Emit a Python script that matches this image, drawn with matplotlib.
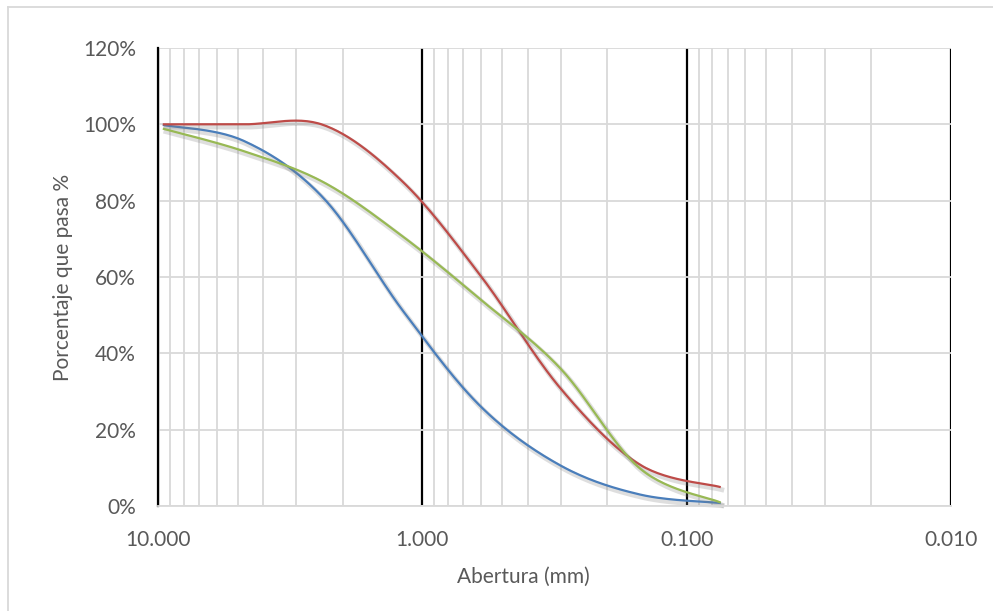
import numpy as np
import matplotlib
matplotlib.use('Agg')
import matplotlib.pyplot as plt
import matplotlib.ticker as mticker
import matplotlib.patheffects as pe
from matplotlib.lines import Line2D

# granulometric curves

abertura = [9.5, 4.75, 2.36, 1.18, 0.6, 0.3, 0.15, 0.075]   # mm
pasa_azul  = [99.8, 95.7, 80.6, 51.0, 26.0, 10.6, 3.0, 0.8]
pasa_rojo  = [100.0, 100.0, 99.8, 84.8, 60.2, 30.8, 10.8, 5.0]
pasa_verde = [98.8, 93.0, 84.8, 70.5, 54.0, 36.0, 9.8, 1.0]

y_ticks = [0, 20, 40, 60, 80, 100, 120]
x_ticks = [10, 1, 0.1, 0.01]

# ================================================

def smooth(x, y, n=30):
    """ Excel-like smoothed line (Catmull-Rom in log10(x), y). """
    lx = np.log10(np.asarray(x, float))
    y = np.asarray(y, float)
    P = np.column_stack([lx, y])
    P = np.vstack([P[0], P, P[-1]])
    out = []
    t = np.linspace(0, 1, n)[:, None]
    for i in range(1, len(P) - 2):
        p0, p1, p2, p3 = P[i-1], P[i], P[i+1], P[i+2]
        m1 = (p2 - p0) / 2
        m2 = (p3 - p1) / 2
        h00 = 2*t**3 - 3*t**2 + 1
        h10 = t**3 - 2*t**2 + t
        h01 = -2*t**3 + 3*t**2
        h11 = t**3 - t**2
        seg = h00*p1 + h10*m1 + h01*p2 + h11*m2
        out.append(seg if i == 1 else seg[1:])
    c = np.vstack(out)
    return 10**c[:, 0], c[:, 1]

plt.rcParams['font.family'] = ['Lato', 'DejaVu Sans']
txt = '#595959'
grid_c = '#D9D9D9'
fs = 15

fig = plt.figure(figsize=(9.93, 6.11), dpi=100)
ax = fig.add_axes([158/993, 1-506/611, (951-158)/993, (506-48)/611])

ax.set_xscale('log')
ax.set_xlim(10, 0.01)
ax.set_ylim(0, 120)

# grids
ax.xaxis.set_minor_locator(mticker.LogLocator(base=10, subs=np.arange(2, 10)))
ax.grid(which='minor', axis='x', color=grid_c, linewidth=1.3)
ax.grid(which='major', axis='x', color='black', linewidth=1.6)
ax.grid(which='major', axis='y', color=grid_c, linewidth=1.3)
ax.set_axisbelow(True)

ax.set_xticks(x_ticks)
ax.set_xticklabels(['%.3f' % v for v in x_ticks])
ax.xaxis.set_minor_formatter(mticker.NullFormatter())
ax.set_yticks(y_ticks)
ax.set_yticklabels(['%d%%' % v for v in y_ticks])
ax.tick_params(which='both', length=0, labelsize=fs, colors=txt)
ax.tick_params(axis='x', pad=17)
ax.tick_params(axis='y', pad=16)

for s in ['top', 'right']:
    ax.spines[s].set_visible(False)
ax.spines['bottom'].set_color(grid_c)
ax.spines['bottom'].set_linewidth(1.3)
ax.spines['left'].set_color('black')
ax.spines['left'].set_linewidth(1.6)

shadow = [pe.SimpleLineShadow(offset=(1.5, -2), shadow_color='#7f7f7f', alpha=0.25, linewidth=3.5), pe.Normal()]
for serie, col in [(pasa_azul, '#4A7EBB'), (pasa_rojo, '#BE4B48'), (pasa_verde, '#98B954')]:
    xs, ys = smooth(abertura, serie)
    ax.plot(xs, ys, color=col, linewidth=1.6, path_effects=shadow, clip_on=False)

fig.text(523/993, 1-577/611, 'Abertura (mm)', ha='center', va='center', fontsize=fs, color=txt)
fig.text(63/993, 1-277/611, 'Porcentaje que pasa %', ha='center', va='center', rotation=90, fontsize=fs, color=txt)

# chart-area frame (cut on right and bottom like the reference)
fig.add_artist(Line2D([8/993, 1], [1-7/611, 1-7/611], color=grid_c, linewidth=1.3))
fig.add_artist(Line2D([8/993, 8/993], [0, 1-7/611], color=grid_c, linewidth=1.3))

fig.savefig('out.png', dpi=100)
